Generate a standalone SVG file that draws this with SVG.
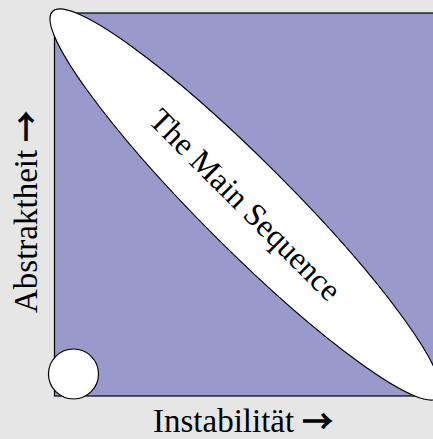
<svg xmlns="http://www.w3.org/2000/svg" width="433" height="439" viewBox="0 0 433 439">
<style>
.lbl{font-family:"Liberation Serif","Times New Roman",serif;font-size:33px;fill:#000}
.ms{font-size:32px}
.arr{font-family:"Noto Sans CJK JP",sans-serif;font-size:30px;stroke:#000;stroke-width:1.4}
.shape{stroke:#000;stroke-width:1.2}
</style>
<rect x="0" y="0" width="433" height="439" fill="#e6e6e6"/>
<g id="plane">
<rect class="shape" x="54.5" y="13" width="390" height="383" fill="#9999cc"/>
</g>
<g id="main-sequence">
<ellipse class="shape" cx="245.5" cy="204.5" rx="273" ry="44" fill="#ffffff" transform="rotate(45 245.5 204.5)"/>
<text class="lbl ms" text-anchor="middle" transform="translate(245.5,204.5) rotate(45)" x="0" y="11">The Main Sequence</text>
</g>
<g id="origin">
<circle class="shape" cx="73.5" cy="374" r="25" fill="#ffffff"/>
</g>
<g id="axis-labels">
<text class="lbl" x="153" y="432">Instabilität <tspan class="arr">→</tspan></text>
<text class="lbl" transform="translate(37,313) rotate(-90)">Abstraktheit <tspan class="arr">→</tspan></text>
</g>
</svg>
